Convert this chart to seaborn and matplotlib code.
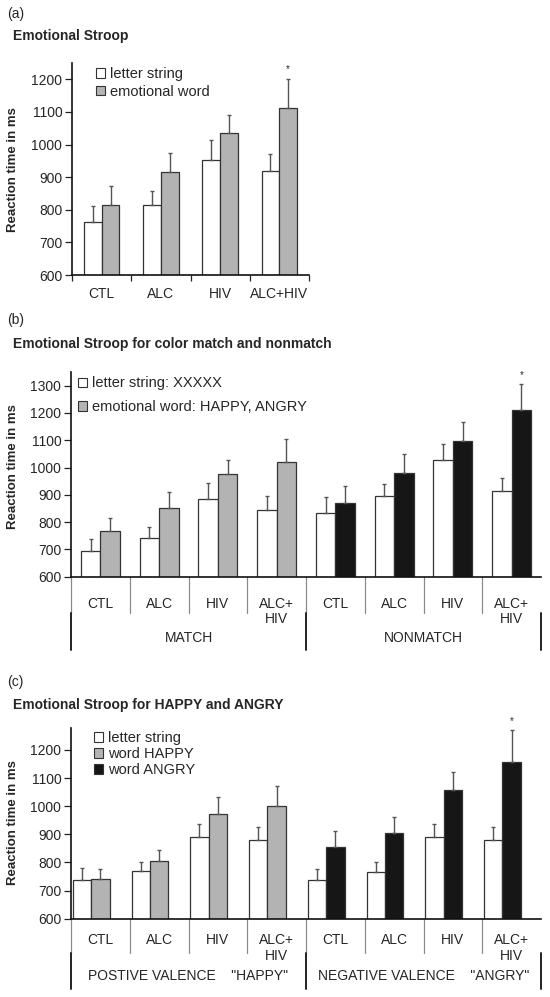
import numpy as np
import pandas as pd
import matplotlib
matplotlib.use("Agg")
import matplotlib.pyplot as plt
import matplotlib.transforms as mtransforms
from matplotlib.patches import Patch
import seaborn as sns

# ---------------- data ----------------
groups = ["CTL", "ALC", "HIV", "ALC+HIV"]
groups_2line = ["CTL", "ALC", "HIV", "ALC+\nHIV"]

# (a) Emotional Stroop
a_letter = [762, 815, 952, 918]
a_letter_err = [50, 43, 61, 52]
a_word = [816, 916, 1034, 1113]
a_word_err = [56, 59, 58, 89]
a_sig = [0, 0, 0, 1]

# (b) color match / nonmatch
b_sets = ["MATCH", "NONMATCH"]
b_match_letter = [695, 743, 884, 845]
b_match_letter_err = [43, 39, 58, 51]
b_match_word = [768, 853, 975, 1020]
b_match_word_err = [48, 56, 54, 86]
b_nonmatch_letter = [832, 896, 1026, 914]
b_nonmatch_letter_err = [61, 42, 61, 49]
b_nonmatch_word = [869, 979, 1097, 1210]
b_nonmatch_word_err = [65, 72, 70, 96]
b_sig = [0, 0, 0, 0, 0, 0, 0, 1]

# (c) HAPPY and ANGRY
c_sets = ['POSTIVE VALENCE    "HAPPY"', 'NEGATIVE VALENCE    "ANGRY"']
c_pos_letter = [738, 768, 890, 880]
c_pos_letter_err = [41, 34, 48, 47]
c_happy = [741, 806, 974, 1001]
c_happy_err = [36, 38, 59, 71]
c_neg_letter = [738, 767, 891, 880]
c_neg_letter_err = [40, 33, 47, 47]
c_angry = [854, 905, 1059, 1159]
c_angry_err = [59, 58, 62, 111]
c_sig = [0, 0, 0, 0, 0, 0, 0, 1]

# ---------------- style ----------------
sns.set_style("ticks")
plt.rcParams["font.family"] = ["Liberation Sans", "DejaVu Sans"]
WHITE, GRAY, BLACK = "#ffffff", "#b3b3b3", "#161616"
EDGE, ERR = "#333333", "#555555"
W, H = 550, 997

fig = plt.figure(figsize=(W / 100, H / 100), dpi=100)


def add_axes(left, right, top, bottom):
    return fig.add_axes([left / W, 1 - bottom / H, (right - left) / W, (bottom - top) / H])


def style_axes(ax, ylim, yticks):
    ax.set_ylim(*ylim)
    ax.set_yticks(yticks)
    ax.tick_params(axis="y", direction="out", length=5, width=0.9, color="#222222",
                   labelsize=10, pad=2)
    for s in ["top", "right"]:
        ax.spines[s].set_visible(False)
    ax.spines["left"].set_linewidth(1.2)
    ax.spines["left"].set_color("#111111")
    ax.spines["bottom"].set_linewidth(1.2)
    ax.spines["bottom"].set_color("#111111")
    ax.set_xlabel("")
    ax.set_ylabel("")


def add_errors(ax, errs_by_hue, sig):
    conts = [c for c in ax.containers if len(c.patches) > 0]
    tops = {}
    for cont, errs in zip(conts, errs_by_hue):
        for j, (p, e) in enumerate(zip(cont.patches, errs)):
            xc = p.get_x() + p.get_width() / 2
            top = p.get_y() + p.get_height()
            ax.errorbar(xc, top, yerr=[[0], [e]], fmt="none", ecolor=ERR,
                        elinewidth=1.0, capsize=1.6, capthick=1.0, zorder=3)
            tops[j] = (xc, top + e)
    for j, s in enumerate(sig):
        if s:
            xc, yt = tops[j]
            ax.annotate("*", xy=(xc, yt), xytext=(0, 3), textcoords="offset points",
                        ha="center", va="bottom", fontsize=7)


def legend(ax, handles, x, top, spacing):
    fig.legend(handles=handles, loc="upper left", bbox_to_anchor=(x / W, 1 - top / H),
               frameon=False, fontsize=10.5, handlelength=0.65, handleheight=0.65,
               handletextpad=0.3, labelspacing=spacing, borderpad=0, borderaxespad=0)


def table_axis(ax, ax_h_px, labels, set_labels, lab_top, d1, d2, set_y):
    trans = mtransforms.blended_transform_factory(ax.transData, ax.transAxes)
    n = len(labels)
    for i, lab in enumerate(labels):
        ax.text(i, -lab_top / ax_h_px, lab, transform=trans, ha="center", va="top",
                fontsize=10, linespacing=1.15)
    for b in np.arange(-0.5, n - 1, 1.0):
        ax.plot([b, b], [0, -d1 / ax_h_px], transform=trans, color="#8a8a8a",
                lw=0.9, clip_on=False)
    half = n // 2
    for b in [-0.5, half - 0.5, n - 0.5]:
        ax.plot([b, b], [-d1 / ax_h_px, -d2 / ax_h_px], transform=trans, color="#222222",
                lw=1.4, clip_on=False)
    for k, lab in enumerate(set_labels):
        ax.text(k * half + (half - 1) / 2, -set_y / ax_h_px, lab, transform=trans,
                ha="center", va="center", fontsize=10)
    ax.set_xticks(range(n))
    ax.set_xticklabels([""] * n)
    ax.tick_params(axis="x", length=0)
    ax.set_xlim(-0.5, n - 0.5)


# ---------------- (a) ----------------
ax_a = add_axes(72, 309, 63, 275)
df_a = pd.DataFrame({
    "group": groups * 2,
    "stim": ["letter string"] * 4 + ["emotional word"] * 4,
    "rt": a_letter + a_word,
})
sns.barplot(data=df_a, x="group", y="rt", hue="stim", order=groups,
            hue_order=["letter string", "emotional word"],
            palette={"letter string": WHITE, "emotional word": GRAY},
            width=0.6, saturation=1, edgecolor=EDGE, linewidth=0.9,
            errorbar=None, legend=False, ax=ax_a)
style_axes(ax_a, (600, 1250), range(600, 1201, 100))
add_errors(ax_a, [a_letter_err, a_word_err], a_sig)
ax_a.set_xticks(range(4))
ax_a.set_xticklabels(groups)
ax_a.set_xticks(np.arange(-0.5, 4, 1.0), minor=True)
ax_a.tick_params(axis="x", which="major", length=0, labelsize=10, pad=9)
ax_a.tick_params(axis="x", which="minor", length=4, width=0.9, color="#222222", direction="out")
ax_a.set_xlim(-0.5, 3.5)
legend(ax_a, [Patch(facecolor=WHITE, edgecolor=EDGE, lw=0.8, label="letter string"),
              Patch(facecolor=GRAY, edgecolor=EDGE, lw=0.8, label="emotional word")],
       96, 67, 0.25)
fig.text(7 / W, 1 - 14 / H, "(a)", fontsize=10, va="center")
fig.text(13 / W, 1 - 36 / H, "Emotional Stroop", fontsize=10, fontweight="bold", va="center")
fig.text(13 / W, 1 - 170 / H, "Reaction time in ms", fontsize=9.5, fontweight="bold",
         rotation=90, ha="center", va="center")

# ---------------- (b) ----------------
ax_b = add_axes(71, 541, 372, 576.7)
b_keys = [f"{s}|{g}" for s in b_sets for g in groups]
df_b = pd.DataFrame({
    "cond": b_keys * 2,
    "stim": ["letter string"] * 8 + ["emotional word"] * 8,
    "rt": b_match_letter + b_nonmatch_letter + b_match_word + b_nonmatch_word,
})
sns.barplot(data=df_b, x="cond", y="rt", hue="stim", order=b_keys,
            hue_order=["letter string", "emotional word"],
            palette={"letter string": WHITE, "emotional word": GRAY},
            width=0.66, saturation=1, edgecolor=EDGE, linewidth=0.9,
            errorbar=None, legend=False, ax=ax_b)
for j, p in enumerate(ax_b.containers[1].patches):
    if b_keys[j].startswith("NONMATCH"):
        p.set_facecolor(BLACK)
style_axes(ax_b, (600, 1350), range(600, 1301, 100))
add_errors(ax_b, [b_match_letter_err + b_nonmatch_letter_err,
                  b_match_word_err + b_nonmatch_word_err], b_sig)
table_axis(ax_b, 204.7, groups_2line * 2, b_sets, 20, 36, 73, 61.5)
legend(ax_b, [Patch(facecolor=WHITE, edgecolor=EDGE, lw=0.8, label="letter string: XXXXX"),
              Patch(facecolor=GRAY, edgecolor=EDGE, lw=0.8, label="emotional word: HAPPY, ANGRY")],
       78, 376.5, 0.68)
fig.text(7 / W, 1 - 320 / H, "(b)", fontsize=10, va="center")
fig.text(13 / W, 1 - 344 / H, "Emotional Stroop for color match and nonmatch", fontsize=10,
         fontweight="bold", va="center")
fig.text(13 / W, 1 - 467 / H, "Reaction time in ms", fontsize=9.5, fontweight="bold",
         rotation=90, ha="center", va="center")

# ---------------- (c) ----------------
ax_c = add_axes(71, 541, 727.5, 918.7)
c_keys = [f"{s}|{g}" for s in ["POS", "NEG"] for g in groups]
df_c = pd.DataFrame({
    "cond": c_keys * 3,
    "stim": ["letter string"] * 8 + ["word"] * 8 + ["(none)"] * 8,
    "rt": c_pos_letter + c_neg_letter + c_happy + c_angry + [np.nan] * 8,
})
sns.barplot(data=df_c, x="cond", y="rt", hue="stim", order=c_keys,
            hue_order=["letter string", "word", "(none)"],
            palette={"letter string": WHITE, "word": GRAY, "(none)": BLACK},
            width=0.94, saturation=1, edgecolor=EDGE, linewidth=0.9,
            errorbar=None, legend=False, ax=ax_c)
for j, p in enumerate(ax_c.containers[1].patches):
    if c_keys[j].startswith("NEG"):
        p.set_facecolor(BLACK)
style_axes(ax_c, (600, 1280), range(600, 1201, 100))
add_errors(ax_c, [c_pos_letter_err + c_neg_letter_err, c_happy_err + c_angry_err], c_sig)
table_axis(ax_c, 191.2, groups_2line * 2, c_sets, 14.5, 34, 70, 57.5)
legend(ax_c, [Patch(facecolor=WHITE, edgecolor=EDGE, lw=0.8, label="letter string"),
              Patch(facecolor=GRAY, edgecolor=EDGE, lw=0.8, label="word HAPPY"),
              Patch(facecolor=BLACK, edgecolor=EDGE, lw=0.8, label="word ANGRY")],
       94, 731, 0.15)
fig.text(7 / W, 1 - 682 / H, "(c)", fontsize=10, va="center")
fig.text(13 / W, 1 - 705 / H, "Emotional Stroop for HAPPY and ANGRY", fontsize=10,
         fontweight="bold", va="center")
fig.text(13 / W, 1 - 823 / H, "Reaction time in ms", fontsize=9.5, fontweight="bold",
         rotation=90, ha="center", va="center")

fig.savefig("out.png", dpi=100)
